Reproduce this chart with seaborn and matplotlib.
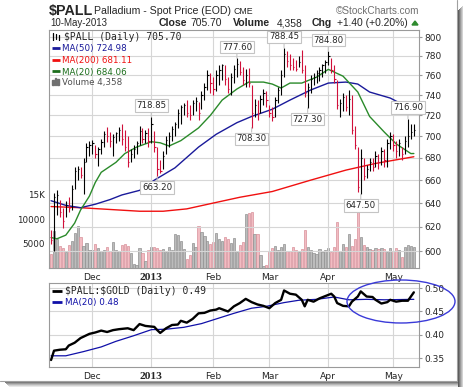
# Palladium spot price chart (StockCharts style) with volume and
# a $PALL:$GOLD ratio panel underneath.

import numpy as np
import pandas as pd
import matplotlib
matplotlib.use("Agg")
import matplotlib.pyplot as plt
from matplotlib.lines import Line2D
from matplotlib.patches import Ellipse, Rectangle, Polygon
from matplotlib.ticker import FixedLocator, NullLocator, FuncFormatter
import seaborn as sns

W, H = 464, 387

# ---------------------------------------------------------------------------
# Data
# ---------------------------------------------------------------------------

HOLIDAYS = ["2012-11-22", "2012-12-25", "2013-01-01", "2013-01-21",
            "2013-02-18", "2013-03-29"]
MONTH_LABELS = ["Dec", "2013", "Feb", "Mar", "Apr", "May"]

highs = [617, 649, 651, 643, 636, 642, 645, 656, 672, 673, 672, 680, 694, 696,
         697, 692, 690, 698, 705, 709, 704, 702, 704, 709, 712, 706, 700, 688,
         692, 696, 710, 708, 706, 708,
         718.85, 705, 690, 678, 686, 700, 704, 710, 714, 726, 730, 732, 735, 730,
         735, 738, 733, 744, 752, 765, 762,
         758, 765, 770, 772, 770, 758, 762, 770, 777.60, 775, 768, 766, 767, 750,
         736, 735, 740, 746, 744,
         730, 728, 738, 748, 765, 788.45, 785, 782, 778, 776, 780, 786, 770, 752,
         760, 762, 765, 768, 772, 776,
         784.80, 778, 770, 755, 736, 742, 740, 745, 740, 710, 690, 688, 680, 674,
         680, 680, 686, 684, 690, 688, 698, 704,
         702, 696, 698, 690, 700, 716.90, 712, 712]
lows = [606, 600, 630, 628, 619, 628, 632, 634, 652, 660, 662, 648, 676, 682,
        684, 680, 673, 684, 690, 695, 690, 682, 694, 696, 692, 686, 672, 676,
        680, 684, 692, 694, 694, 690,
        694, 685, 663.20, 666, 670, 684, 690, 696, 700, 708, 712, 720, 718, 716,
        720, 724, 716, 726, 735, 745, 742,
        740, 744, 750, 755, 750, 742, 740, 752, 758, 760, 750, 748, 748, 708.30,
        718, 716, 722, 730, 728,
        718, 715, 718, 732, 740, 758, 768, 765, 765, 764, 768, 762, 738, 727.30,
        742, 750, 752, 754, 758, 762,
        770, 762, 752, 726, 718, 724, 724, 720, 702, 688, 650, 647.50, 660, 662,
        668, 668, 672, 670, 674, 672, 672, 688,
        686, 680, 682, 678, 684, 690, 698, 700]
closes = [609, 645, 647, 632, 625, 638, 636, 652, 668, 670, 665, 676, 690, 692,
          694, 684, 688, 695, 702, 700, 696, 699, 703, 706, 698, 690, 676, 684,
          688, 694, 705, 698, 703, 696,
          712, 690, 670, 668, 682, 697, 700, 707, 712, 722, 728, 730, 722, 720,
          732, 734, 722, 740, 748, 760, 752,
          746, 760, 765, 770, 756, 746, 758, 766, 772, 763, 755, 760, 752, 722,
          730, 722, 736, 742, 735,
          722, 718, 735, 745, 760, 782, 775, 770, 768, 766, 774, 765, 742, 748,
          756, 758, 762, 765, 770, 774,
          780, 765, 756, 730, 732, 738, 728, 736, 706, 692, 654, 680, 664, 670,
          676, 672, 682, 676, 686, 678, 694, 700,
          692, 686, 694, 684, 696, 700, 704.30, 705.70]
prev_close = 615.0

volumes = [2900, 7700, 6000, 4600, 4200, 3200, 4800, 5600, 7100, 8600, 6300,
           4600, 5200, 3800, 3600, 5000, 4100, 3500, 3600, 4400, 3500, 5400,
           3800, 3400, 4800, 4900, 4600, 3000, 900, 700, 4200, 3100, 1500, 3700,
           4300, 4400, 4200, 3600, 4000, 3300, 4400, 3800, 7000, 6800, 5600,
           3900, 1800, 2600, 5200, 4400, 8700, 7300, 6600, 5600, 4900, 5400,
           7100, 6000, 5500, 6400, 5900, 5200, 6200, 3300, 4700, 5400, 11000,
           11300, 11500, 6900, 7000, 2600, 400, 600, 3200, 4200, 4600, 3600,
           4400, 5000, 3400, 3500, 4300, 3600, 3200, 4000, 7900, 4400, 3700,
           3100, 2900, 3900, 3300, 3800, 4100, 3300, 4300, 9400, 3500, 5000,
           4400, 7000, 4600, 6000, 11900, 6400, 4800, 4300, 3900, 3600, 4100,
           4000, 4100, 3900, 3300, 4100, 3200, 4200, 3700, 2300, 4300, 4800,
           4600, 4358]

ma50_idx = [0, 5, 10, 15, 20, 24, 30, 35, 42, 50, 56, 63, 68, 75, 81, 88, 94,
            100, 104, 108, 115, 121, 123]
ma50_val = [642, 638, 636, 639, 643, 647, 651, 660, 671, 690, 702, 713, 719,
            726, 735, 745, 752, 753, 751, 743, 737, 728, 724.98]

ma200_idx = [0, 10, 20, 30, 38, 46, 55, 64, 75, 88, 100, 110, 123]
ma200_val = [637, 636, 634.5, 633, 633, 635, 640, 645, 650, 660, 669, 675,
             681.11]

ma20_idx = [0, 2, 5, 8, 10, 13, 15, 17, 22, 25, 29, 34, 37, 40, 44, 50, 54, 58,
            63, 67, 72, 75, 78, 81, 85, 90, 94, 99, 104, 108, 113, 117, 122, 123]
ma20_val = [611, 610, 613, 623, 634, 646, 658, 667, 676, 684, 690, 695, 694,
            691, 696, 708, 720, 735, 746, 753, 753, 751, 747, 752, 752, 758,
            766, 759, 743, 719, 704, 693, 684, 684.06]

ratio_idx = [0, 1, 3, 5, 6, 8, 10, 11, 13, 15, 17, 19, 21, 23, 26, 28, 30, 32,
             35, 36, 37, 39, 41, 43, 44, 46, 48, 50, 52, 54, 56, 57, 60, 62, 64,
             66, 68, 70, 72, 74, 76, 78, 79, 81, 83, 85, 86, 87, 89, 91, 93, 95,
             96, 97, 99, 101, 102, 104, 105, 107, 109, 110, 112, 114, 115, 117,
             119, 121, 123]
ratio_val = [0.346, 0.366, 0.368, 0.369, 0.377, 0.383, 0.393, 0.396, 0.402,
             0.405, 0.409, 0.406, 0.410, 0.412, 0.414, 0.410, 0.423, 0.419,
             0.417, 0.410, 0.404, 0.414, 0.421, 0.422, 0.430, 0.426, 0.434,
             0.446, 0.447, 0.452, 0.454, 0.457, 0.450, 0.461, 0.468, 0.477,
             0.470, 0.465, 0.462, 0.457, 0.468, 0.475, 0.495, 0.488, 0.486,
             0.475, 0.461, 0.475, 0.471, 0.478, 0.483, 0.488, 0.482, 0.468,
             0.462, 0.461, 0.471, 0.482, 0.493, 0.482, 0.481, 0.475, 0.467,
             0.470, 0.475, 0.471, 0.473, 0.473, 0.491]

ratio_ma_idx = [0, 5, 11, 17, 22, 28, 34, 39, 45, 51, 56, 62, 68, 73, 79, 84,
                90, 96, 101, 107, 113, 123]
ratio_ma_val = [0.355, 0.355, 0.364, 0.374, 0.386, 0.398, 0.411, 0.412, 0.416,
                0.424, 0.434, 0.446, 0.457, 0.461, 0.469, 0.474, 0.476, 0.481,
                0.475, 0.476, 0.475, 0.476]

# bars that carry a boxed price label
label_idx = [34, 36, 63, 68, 79, 87, 94, 105, 121]
label_side = ["high", "low", "high", "low", "high", "low", "high", "low", "high"]

# ---------------------------------------------------------------------------
# Colours
# ---------------------------------------------------------------------------
RED_BAR = "#d0103a"
NAVY = "#1a1a9a"
MA200_RED = "#f01010"
MA20_GREEN = "#2a8a2a"
GRID = "#d6d6d6"
SPINE = "#9a9a9a"

# ---------------------------------------------------------------------------
# Helpers working in picture pixels (origin top-left)
# ---------------------------------------------------------------------------

def box(x0, y0, x1, y1):
    return [x0 / W, 1 - y1 / H, (x1 - x0) / W, (y1 - y0) / H]


def fx(x):
    return x / W


def fy(y):
    return 1 - y / H


sns.set_style("white")
plt.rcParams["font.family"] = ["DejaVu Sans"]

fig = plt.figure(figsize=(W / 100, H / 100), dpi=100)
fig.patch.set_facecolor("white")


def ftext(x, y, s, **kw):
    fig.text(fx(x), fy(y), s, va="baseline", **kw)


def fline(x0, x1, y, color, lw=2.0):
    fig.add_artist(Line2D([fx(x0), fx(x1)], [fy(y), fy(y)], color=color, lw=lw,
                          solid_capstyle="butt"))


dates = pd.bdate_range("2012-11-12", "2013-05-10")
dates = dates[~dates.isin(pd.to_datetime(HOLIDAYS))]
day_idx = pd.Series(np.arange(len(dates)), index=dates)
month_first = day_idx.groupby(dates.to_period("M")).min().values[1:]

n = len(closes)
idx = np.arange(n)
prev = np.r_[prev_close, closes[:-1]]
up = np.array(closes) >= prev
bar_cols = np.where(up, "black", RED_BAR)
XLIM = (-0.7, 124.75)

# ---------------------------------------------------------------------------
# Volume (behind the price panel)
# ---------------------------------------------------------------------------
ax_vol = fig.add_axes(box(49, 30, 419, 268))
ax_vol.bar(idx, volumes, width=0.75,
           color=np.where(up, "#bcbcbc", "#f2bcc2"),
           edgecolor=np.where(up, "#909090", "#d8909a"), linewidth=0.5)
ax_vol.set_xlim(*XLIM)
ax_vol.set_ylim(0, 48900)
ax_vol.set_xticks([])
ax_vol.set_yticks([5000, 10000, 15000])
ax_vol.set_yticklabels(["5000", "10000", "15K"])
ax_vol.tick_params(axis="y", length=0, pad=3, labelsize=6.3)
for s in ax_vol.spines.values():
    s.set_visible(False)

# ---------------------------------------------------------------------------
# Price panel
# ---------------------------------------------------------------------------
ax = fig.add_axes(box(49, 30, 419, 268))
ax.patch.set_alpha(0)
ax.set_yscale("log")

ax.vlines(idx, lows, highs, colors=bar_cols, lw=0.8, zorder=4)
ax.hlines(closes, idx, idx + 0.45, colors=bar_cols, lw=0.8, zorder=4)

sns.lineplot(x=ma200_idx, y=ma200_val, ax=ax, color=MA200_RED, lw=1.0, zorder=3)
sns.lineplot(x=ma50_idx, y=ma50_val, ax=ax, color=NAVY, lw=1.0, zorder=3)
sns.lineplot(x=ma20_idx, y=ma20_val, ax=ax, color=MA20_GREEN, lw=1.0, zorder=3)

for i, side in zip(label_idx, label_side):
    val = highs[i] if side == "high" else lows[i]
    dy = 8 if side == "high" else -8
    ax.annotate(f"{val:.2f}", xy=(i, val), xytext=(0, dy),
                textcoords="offset points", ha="center", va="center",
                fontsize=6.2, zorder=6, annotation_clip=False,
                bbox=dict(boxstyle="square,pad=0.2", fc="white", ec="#c4c4c4",
                          lw=0.8),
                arrowprops=dict(arrowstyle="-", color="#c4c4c4", lw=0.8,
                                shrinkA=0, shrinkB=0))

ax.set_xlim(*XLIM)
ax.set_ylim(586.5, 807.6)
ax.yaxis.set_major_locator(FixedLocator(list(range(600, 801, 20))))
ax.yaxis.set_minor_locator(NullLocator())
ax.yaxis.set_major_formatter(FuncFormatter(lambda v, p: f"{v:.0f}"))
ax.yaxis.tick_right()
ax.set_xticks(month_first)
ax.set_xticklabels(MONTH_LABELS)
ax.tick_params(axis="x", length=0, pad=3.5, labelsize=6.6)
ax.tick_params(axis="y", length=2, pad=2, labelsize=6.5, color=SPINE)
ax.grid(True, color=GRID, lw=0.8)
ax.set_xlabel("")
ax.set_ylabel("")
for s in ax.spines.values():
    s.set_color(SPINE)
    s.set_linewidth(0.8)

# ---------------------------------------------------------------------------
# Ratio panel
# ---------------------------------------------------------------------------
ax_r = fig.add_axes(box(49, 283, 419, 367))
sns.lineplot(x=ratio_ma_idx, y=ratio_ma_val, ax=ax_r, color="#1010a8", lw=0.9)
sns.lineplot(x=ratio_idx, y=ratio_val, ax=ax_r, color="black", lw=1.7)
ax_r.set_xlim(*XLIM)
ax_r.set_ylim(0.331, 0.511)
ax_r.set_yticks([0.35, 0.40, 0.45, 0.50])
ax_r.set_yticklabels(["0.35", "0.40", "0.45", "0.50"])
ax_r.yaxis.tick_right()
ax_r.set_xticks(month_first)
ax_r.set_xticklabels(MONTH_LABELS)
ax_r.tick_params(axis="x", length=0, pad=3.5, labelsize=6.6)
ax_r.tick_params(axis="y", length=2, pad=2, labelsize=6.5, color=SPINE)
ax_r.grid(True, color=GRID, lw=0.8)
ax_r.set_xlabel("")
ax_r.set_ylabel("")
for s in ax_r.spines.values():
    s.set_color(SPINE)
    s.set_linewidth(0.8)

for a in (ax, ax_r):
    for lbl in a.get_xticklabels():
        if lbl.get_text() == "2013":
            lbl.set_fontfamily("Liberation Serif")
            lbl.set_fontweight("bold")
            lbl.set_fontsize(8.2)

# ---------------------------------------------------------------------------
# Header text
# ---------------------------------------------------------------------------
ftext(49, 15, "$PALL", fontsize=10.3, fontweight="bold", family="Liberation Sans")
ftext(94, 14, "Palladium - Spot Price (EOD)", fontsize=7.6,
      family="Liberation Sans")
ftext(233, 14, "CME", fontsize=6.3, family="Liberation Sans")
ftext(419, 14, "\u00a9StockCharts.com", fontsize=7.2, color="#707070",
      family="Liberation Sans", ha="right")
ftext(50, 26.5, "10-May-2013", fontsize=7.0, family="Liberation Sans")
ftext(159, 26.5, "Close", fontsize=7.6, fontweight="bold", family="Liberation Sans")
ftext(190, 26.5, "705.70", fontsize=7.4, family="Liberation Sans")
ftext(233, 26.5, "Volume", fontsize=7.6, fontweight="bold", family="Liberation Sans")
ftext(277, 26.5, "4,358", fontsize=7.4, family="Liberation Sans")
ftext(312, 26.5, "Chg", fontsize=7.6, fontweight="bold", family="Liberation Sans")
ftext(337, 26.5, "+1.40 (+0.20%)", fontsize=7.4, family="Liberation Sans")
fig.add_artist(Polygon([[fx(412), fy(25)], [fx(418), fy(25)], [fx(415), fy(21)]],
                       closed=True, transform=fig.transFigure, color="#2e8b2e"))

# ---------------------------------------------------------------------------
# Legends inside the panels
# ---------------------------------------------------------------------------
for k, xo in enumerate([53, 56, 59]):
    fig.add_artist(Line2D([fx(xo), fx(xo)], [fy(33 + k), fy(40 - k % 2)],
                          color="black", lw=0.9))
ftext(64, 39.5, "$PALL (Daily) 705.70", fontsize=7.0, family="DejaVu Sans Mono")
fline(52, 60, 48, NAVY)
ftext(62, 51.5, "MA(50) 724.98", fontsize=6.3, color=NAVY)
fline(52, 60, 60, MA200_RED)
ftext(62, 63.5, "MA(200) 681.11", fontsize=6.3, color=MA200_RED)
fline(52, 60, 71, "#1c6e1c")
ftext(62, 74.5, "MA(20) 684.06", fontsize=6.3, color="#1c6e1c")
for k, (xo, top) in enumerate([(53, 80), (55.5, 78), (58, 79)]):
    fig.add_artist(Rectangle((fx(xo - 0.8), fy(84.5)), 1.6 / W, (84.5 - top) / H,
                             transform=fig.transFigure, color="#707070"))
ftext(62, 85.5, "Volume 4,358", fontsize=6.3, color="#505050")

fline(52, 62, 291, "black")
ftext(65, 294.5, r"\$PALL:\$GOLD (Daily) 0.49", fontsize=7.0,
      family="DejaVu Sans Mono")
fline(52, 62, 302, "#1010a8")
ftext(65, 305.5, "MA(20) 0.48", fontsize=6.3, color="#1010a8")

# hand-drawn circle around the recent ratio action
fig.add_artist(Ellipse((fx(401), fy(301.5)), 108 / W, 43 / H,
                       transform=fig.transFigure, fill=False, ec="#3a3ad8",
                       lw=1.0))

# ---------------------------------------------------------------------------
# Card border with drop shadow
# ---------------------------------------------------------------------------
fig.add_artist(Line2D([fx(457.5), fx(457.5)], [fy(0), fy(380.5)],
                      color="#a0a0a0", lw=0.8))
fig.add_artist(Line2D([fx(0), fx(457.5)], [fy(380.5), fy(380.5)],
                      color="#a0a0a0", lw=0.8))
shades = ["#5a5a5a", "#7a7a7a", "#9a9a9a", "#b8b8b8", "#d2d2d2", "#e8e8e8"]
for k, c in enumerate(shades):
    fig.add_artist(Rectangle((fx(458 + k), fy(387)), 1 / W, (381 - 4 + k) / H,
                             transform=fig.transFigure, color=c, lw=0))
    fig.add_artist(Rectangle((fx(4 + k), fy(382 + k)), (458 - 4 - k) / W, 1 / H,
                             transform=fig.transFigure, color=c, lw=0))

fig.savefig("out.png", dpi=100)
plt.close(fig)
